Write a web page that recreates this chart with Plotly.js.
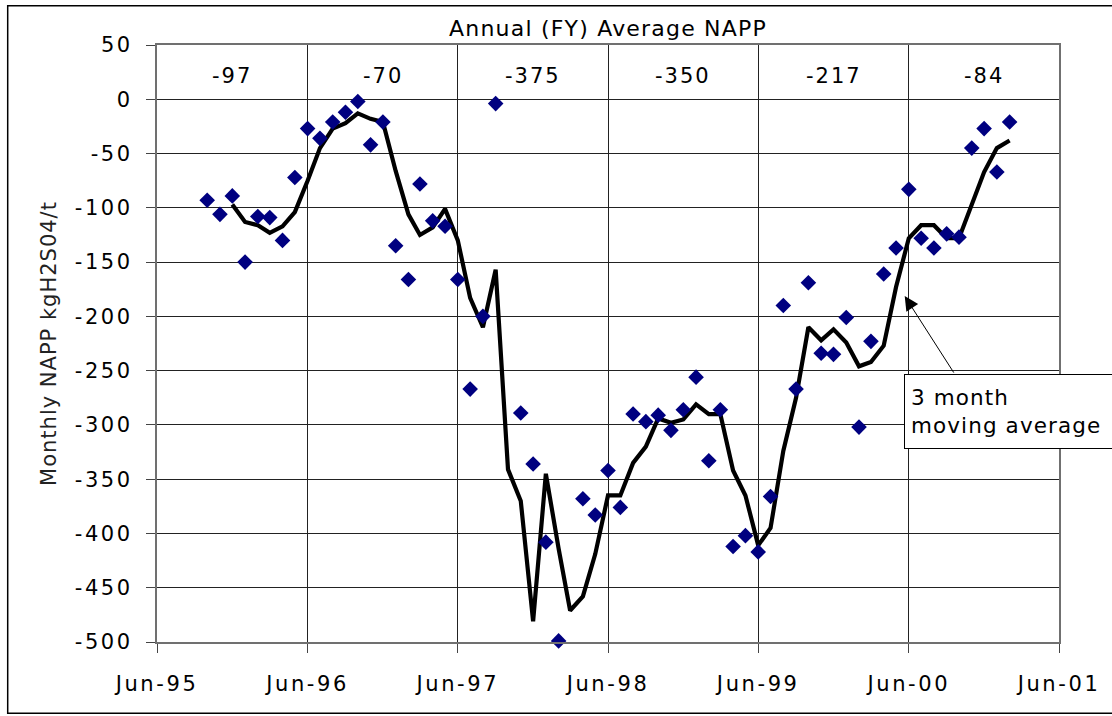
<!DOCTYPE html>
<html>
<head>
<meta charset="utf-8">
<script src="https://cdn.plot.ly/plotly-3.0.1.min.js"></script>
<style>
html,body{margin:0;padding:0;background:#fff;}
#chart{width:1112px;height:716px;}
.xtick text,.ytick text{letter-spacing:2.6px;}
g.annotation text{letter-spacing:2px;}
g.annotation[data-index="7"] text{letter-spacing:1.1px;}
.gtitle{letter-spacing:1.2px;}
.ytitle{letter-spacing:1px;}
</style>
</head>
<body>
<div id="chart"></div>
<script>
// Monthly NAPP observations (first of month)
const months = [
 '1995-10','1995-11','1995-12',
 '1996-01','1996-02','1996-03','1996-04','1996-05','1996-06','1996-07','1996-08','1996-09','1996-10','1996-11','1996-12',
 '1997-01','1997-02','1997-03','1997-04','1997-05','1997-06','1997-07','1997-08','1997-09','1997-10','1997-11','1997-12',
 '1998-01','1998-02','1998-03','1998-04','1998-05','1998-06','1998-07','1998-08','1998-09','1998-10','1998-11','1998-12',
 '1999-01','1999-02','1999-03','1999-04','1999-05','1999-06','1999-07','1999-08','1999-09','1999-10','1999-11','1999-12',
 '2000-01','2000-02','2000-03','2000-04','2000-05','2000-06','2000-07','2000-08','2000-09','2000-10','2000-11','2000-12',
 '2001-01','2001-02'
];
const monthlyNapp = [
 -93,-106,-89,
 -150,-108,-109,-130,-72,-27,-36,-21,-12,-2,-42,-21,
 -135,-166,-78,-112,-117,-166,-267,-200,-4,null,-289,-336,
 -408,-499,null,-368,-383,-342,-376,-290,-297,-291,-305,-286,
 -256,-333,-286,-412,-402,-417,-366,-190,-267,-169,-234,-235,
 -201,-302,-223,-161,-137,-83,-128,-137,-124,-127,-45,-27,
 -67,-21
];
// 3 month moving average (from Dec-95)
const maMonths = months.slice(2);
const movingAvg = [
 -97,
 -113,-116,-123,-117,-104,-75,-45,-27,-22,-13,-18,-21,
 -66,-106,-125,-118,-101,-130,-183,-210,-157,-341,-370,-481,
 -345,-414,-471,-458,-419,-365,-365,-335,-320,-294,-298,-295,
 -281,-290,-290,-342,-365,-411,-395,-324,-275,-210,-222,-212,
 -224,-246,-242,-227,-173,-128,-116,-116,-128,-128,-97,-67,
 -45,-38
];
// Annual (FY) averages, placed mid financial year
const fyMid = ['1995-12-01','1996-12-01','1997-12-01','1998-12-01','1999-12-01','2000-12-01'];
const fyAverages = [-97,-70,-375,-350,-217,-84];
const xTickDates = ['1995-06-01','1996-06-01','1997-06-01','1998-06-01','1999-06-01','2000-06-01','2001-06-01'];
const xTickLabels = ['Jun-95','Jun-96','Jun-97','Jun-98','Jun-99','Jun-00','Jun-01'];
const yTickVals = [50,0,-50,-100,-150,-200,-250,-300,-350,-400,-450,-500];
const yTickLabels = ['50','0','-50','-100','-150','-200','-250','-300','-350','-400','-450','-500'];

const FONT = 'DejaVu Sans, Verdana, sans-serif';

const traces = [
  {x: maMonths, y: movingAvg, type:'scatter', mode:'lines',
   line:{color:'#000', width:4.2}, hoverinfo:'skip', cliponaxis:false},
  {x: months, y: monthlyNapp, type:'scatter', mode:'markers',
   marker:{symbol:'diamond', size:12, color:'#000080', line:{width:0}},
   hoverinfo:'skip', cliponaxis:false}
];

const annotations = fyAverages.map((v,i)=>({
  x: fyMid[i], y: 21, xref:'x', yref:'y', text: String(v), showarrow:false,
  font:{family:FONT, size:21, color:'#000'}, xanchor:'center', yanchor:'middle'
}));
// arrow
annotations.push({
  xref:'paper', yref:'paper', x:(905-157.3)/902, y:(641.7-296)/596.6,
  text:'', showarrow:true, ax:50, ay:78, axref:'pixel', ayref:'pixel',
  arrowhead:2, arrowsize:2.8, arrowwidth:1, arrowcolor:'#000', standoff:0
});
// label box
annotations.push({
  xref:'paper', yref:'paper', x:(904-157.3)/902, y:(641.7-374)/596.6,
  xanchor:'left', yanchor:'top', align:'left', showarrow:false,
  text:'3 month<br>moving average', width:225, height:61,
  bordercolor:'#000', borderwidth:1, borderpad:6, bgcolor:'#fff',
  font:{family:FONT, size:21.5, color:'#000'}
});

const layout = {
  width:1112, height:716,
  margin:{l:157, r:53, t:45, b:74, pad:0},
  paper_bgcolor:'#fff', plot_bgcolor:'#fff',
  showlegend:false,
  font:{family:FONT, size:21, color:'#000'},
  title:{text:'Annual (FY) Average NAPP', font:{family:FONT, size:22, color:'#000'},
         x:0.5, xref:'paper', xanchor:'center', y:1-28/716, yref:'container', yanchor:'middle'},
  xaxis:{type:'date', range:['1995-06-01','2001-06-01'], tickmode:'array',
         tickvals:xTickDates, ticktext:xTickLabels,
         showgrid:true, gridcolor:'#222', gridwidth:1, zeroline:false,
         ticks:'outside', ticklen:9, tickwidth:1, tickcolor:'#444',
         showline:true, linecolor:'#707070', linewidth:2, mirror:true,
         ticklabelstandoff:13, tickfont:{family:FONT, size:21, color:'#000'}},
  yaxis:{range:[-500,50], tickmode:'array', tickvals:yTickVals, ticktext:yTickLabels,
         showgrid:true, gridcolor:'#222', gridwidth:1, zeroline:false,
         ticks:'outside', ticklen:9, tickwidth:1, tickcolor:'#444',
         showline:true, linecolor:'#707070', linewidth:2, mirror:true,
         ticklabelstandoff:9, tickfont:{family:FONT, size:21, color:'#000'},
         title:{text:'Monthly NAPP kgH2S04/t', standoff:12,
                font:{family:FONT, size:21, color:'#222'}}},
  annotations: annotations,
  shapes:[{type:'rect', xref:'paper', yref:'paper',
           x0:(8-157.3)/902, x1:(1130-157.3)/902,
           y0:(641.7-713)/596.6, y1:(641.7-6)/596.6,
           line:{color:'#000', width:1.5}, fillcolor:'rgba(0,0,0,0)', layer:'below'}]
};

Plotly.newPlot('chart', traces, layout, {staticPlot:true, displayModeBar:false});
</script>
</body>
</html>
